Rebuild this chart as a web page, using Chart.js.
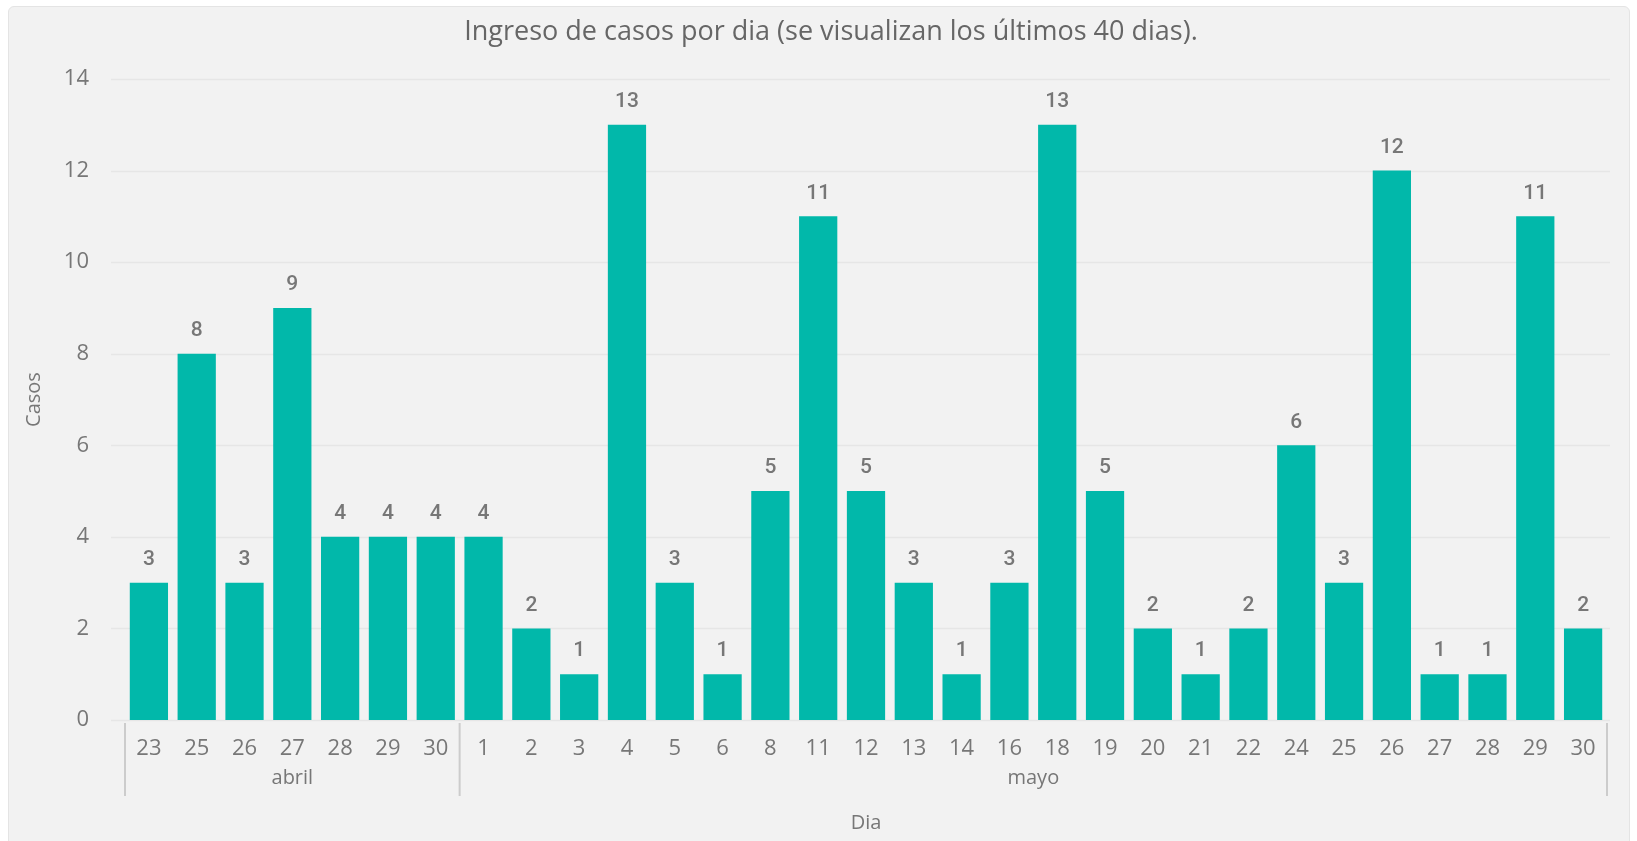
<!DOCTYPE html>
<html>
<head>
<meta charset="utf-8">
<script src="https://cdn.jsdelivr.net/npm/chart.js@4/dist/chart.umd.min.js"></script>
<style>
  body { margin: 0; background: #ffffff; }
  #wrap { position: relative; width: 1637px; height: 841px; overflow: hidden; }
  #panel {
    position: absolute; left: 8px; top: 6px; width: 1620px; height: 850px;
    background: #f2f2f2; border: 1px solid #e4e4e4; border-radius: 6px;
  }
  #chart { position: absolute; left: 0; top: 0; }
</style>
</head>
<body>
<div id="wrap">
  <div id="panel"></div>
  <canvas id="chart" width="1637" height="841"></canvas>
</div>
<script>
const dias = ['23', '25', '26', '27', '28', '29', '30',
    '1', '2', '3', '4', '5', '6', '8', '11', '12', '13', '14', '16', '18', '19',
    '20', '21', '22', '24', '25', '26', '27', '28', '29', '30'];

const meses = ['abril', 'abril', 'abril', 'abril', 'abril', 'abril', 'abril',
    'mayo', 'mayo', 'mayo', 'mayo', 'mayo', 'mayo', 'mayo', 'mayo', 'mayo', 'mayo', 'mayo', 'mayo', 'mayo', 'mayo',
    'mayo', 'mayo', 'mayo', 'mayo', 'mayo', 'mayo', 'mayo', 'mayo', 'mayo', 'mayo'];

const casos = [3, 8, 3, 9, 4, 4, 4,
    4, 2, 1, 13, 3, 1, 5, 11, 5, 3, 1, 3, 13, 5,
    2, 1, 2, 6, 3, 12, 1, 1, 11, 2];

const yTicks = [0, 2, 4, 6, 8, 10, 12, 14];

const titulo = 'Ingreso de casos por dia (se visualizan los últimos 40 dias).';

const fuente = '"Open Sans", "Noto Sans", sans-serif';

// horizontal grid lines, a bit wider than the plot area
const gridPlugin = {
    id: 'gridExt',
    beforeDatasetsDraw(chart) {
        const { ctx, chartArea, scales } = chart;
        ctx.save();
        ctx.strokeStyle = '#e6e6e6';
        ctx.lineWidth = 1.5;
        yTicks.forEach((v) => {
            let y = Math.round(scales.y.getPixelForValue(v)) + 0.5;
            ctx.beginPath();
            ctx.moveTo(chartArea.left - 14, y);
            ctx.lineTo(chartArea.right + 3, y);
            ctx.stroke();
        });
        ctx.restore();
    }
};

// numbers over the bars
const labelsPlugin = {
    id: 'valueLabels',
    afterDatasetsDraw(chart) {
        const { ctx } = chart;
        const meta = chart.getDatasetMeta(0);
        ctx.save();
        ctx.fillStyle = '#777777';
        ctx.font = '500 21px Roboto, sans-serif';
        ctx.textAlign = 'center';
        ctx.textBaseline = 'middle';
        meta.data.forEach((bar, i) => {
            ctx.fillText(String(casos[i]), bar.x, bar.y - 23);
        });
        ctx.restore();
    }
};

// month groups under the day labels, plus the title
const groupsPlugin = {
    id: 'monthGroups',
    afterDraw(chart) {
        const { ctx, chartArea, scales } = chart;
        const x = scales.x;
        const half = (x.getPixelForValue(1) - x.getPixelForValue(0)) / 2;
        let groups = [];
        meses.forEach((m, i) => {
            if (groups.length == 0 || groups[groups.length - 1].name != m) {
                groups.push({ name: m, first: i, last: i });
            } else {
                groups[groups.length - 1].last = i;
            }
        });
        ctx.save();
        ctx.strokeStyle = '#cccccc';
        ctx.lineWidth = 2;
        ctx.fillStyle = '#777777';
        ctx.font = '20px ' + fuente;
        ctx.textAlign = 'center';
        ctx.textBaseline = 'middle';
        groups.forEach((g, k) => {
            let x0 = x.getPixelForValue(g.first) - half;
            let x1 = x.getPixelForValue(g.last) + half;
            ctx.beginPath();
            ctx.moveTo(x0, chartArea.bottom + 3);
            ctx.lineTo(x0, chartArea.bottom + 76);
            if (k == groups.length - 1) {
                ctx.moveTo(x1, chartArea.bottom + 3);
                ctx.lineTo(x1, chartArea.bottom + 76);
            }
            ctx.stroke();
            ctx.fillText(g.name, (x0 + x1) / 2, chartArea.bottom + 58);
        });

        ctx.fillStyle = '#666666';
        ctx.font = '27px ' + fuente;
        ctx.fillText(titulo, 831, 32);
        ctx.restore();
    }
};

new Chart(document.getElementById('chart'), {
    type: 'bar',
    data: {
        labels: dias,
        datasets: [{
            label: 'Casos',
            data: casos,
            backgroundColor: '#01B8AA',
            barPercentage: 0.8,
            categoryPercentage: 1.0,
        }]
    },
    options: {
        responsive: false,
        animation: false,
        layout: { padding: { top: 79, right: 30, bottom: 0, left: 0 } },
        plugins: {
            legend: { display: false },
            tooltip: { enabled: false },
        },
        scales: {
            x: {
                grid: { display: false, drawTicks: false },
                border: { display: false },
                ticks: {
                    color: '#777777',
                    font: { family: fuente, size: 22 },
                    padding: 16,
                    autoSkip: false,
                    maxRotation: 0,
                },
                title: {
                    display: true,
                    text: 'Dia',
                    color: '#777777',
                    font: { family: fuente, size: 20 },
                    padding: { top: 0, bottom: 6 },
                },
                afterFit: (scale) => { scale.height = 121; },
            },
            y: {
                min: 0,
                max: 14,
                grid: { display: false, drawTicks: false },
                border: { display: false },
                ticks: {
                    stepSize: 2,
                    color: '#777777',
                    font: { family: fuente, size: 22 },
                    padding: 36,
                },
                title: {
                    display: true,
                    text: 'Casos',
                    color: '#777777',
                    font: { family: fuente, size: 20 },
                    padding: { top: 22, bottom: 0 },
                },
                afterFit: (scale) => { scale.width = 125; },
            }
        }
    },
    plugins: [gridPlugin, labelsPlugin, groupsPlugin]
});
</script>
</body>
</html>
